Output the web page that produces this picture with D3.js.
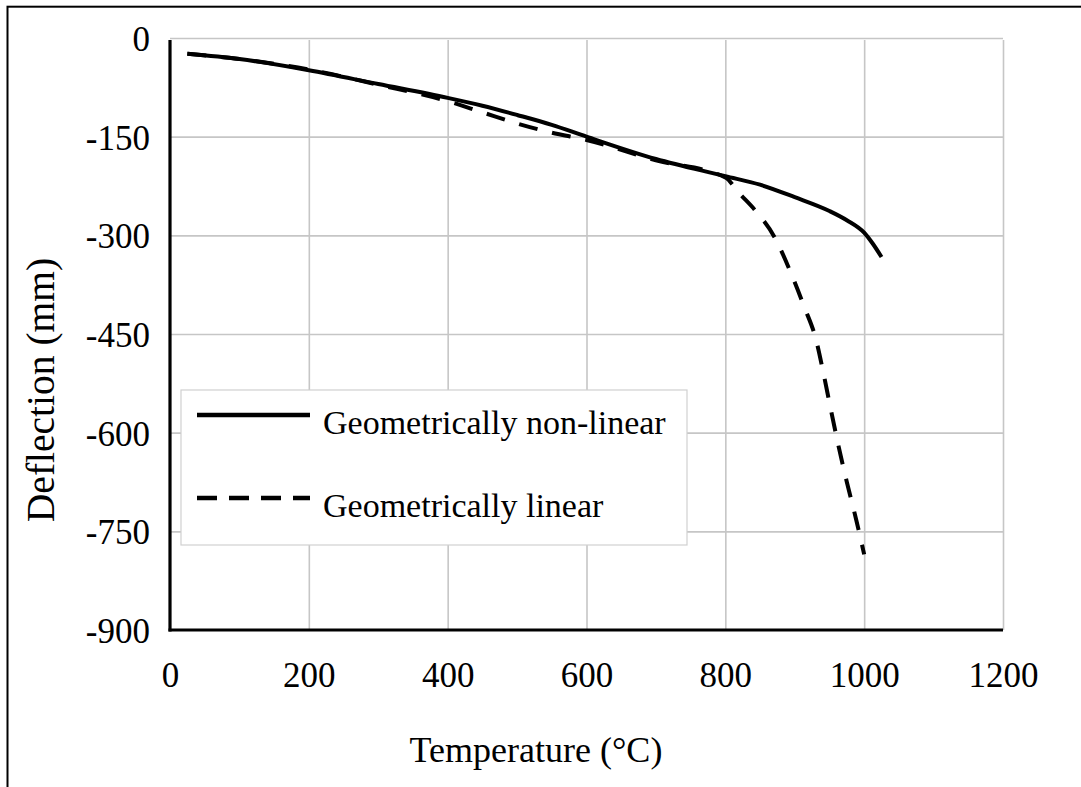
<!DOCTYPE html>
<html>
<head>
<meta charset="utf-8">
<script src="https://cdn.jsdelivr.net/npm/d3@7"></script>
<style>
  html, body { margin: 0; padding: 0; background: #fff; }
  svg { display: block; }
  text { font-family: "Liberation Serif", "Times New Roman", serif; fill: #000; }
</style>
</head>
<body>
<svg id="chart" width="1081" height="787"></svg>
<script>
// ---- data ----
const xTicks = [0, 200, 400, 600, 800, 1000, 1200];
const yTicks = [0, -150, -300, -450, -600, -750, -900];

const nonLinearTemp = [25, 100, 200, 300, 400, 450, 500, 550, 600, 700, 800, 850, 900, 950, 975, 1000, 1012, 1025];
const nonLinearDefl = [-24, -32, -49, -70, -91, -103, -117, -132, -150, -184, -210, -223, -242, -263, -277, -296, -312, -333];

const linearTemp = [25, 100, 200, 300, 400, 450, 500, 550, 600, 700, 800, 820, 843, 871, 894, 913, 931, 942, 952, 963, 975, 988, 1000];
const linearDefl = [-24, -32, -48, -71, -96, -113, -130, -144, -155, -186, -212, -236, -262, -303, -356, -407, -460, -513, -565, -620, -675, -730, -785];

const legendLabels = ["Geometrically non-linear", "Geometrically linear"];
const xTitle = "Temperature (°C)";
const yTitle = "Deflection (mm)";

// ---- layout ----
const svg = d3.select("#chart");
const x = d3.scaleLinear().domain([0, 1200]).range([170, 1003]);
const y = d3.scaleLinear().domain([0, -900]).range([38, 630]);
const fmt = d => String(d);

// outer border (clipped at right/bottom)
svg.append("rect")
  .attr("x", 7.5).attr("y", 6.7)
  .attr("width", 1090).attr("height", 800)
  .attr("fill", "none").attr("stroke", "#000").attr("stroke-width", 2);

// gridlines
const gridColor = "#c6c6c6";
svg.append("g")
  .attr("transform", `translate(0,${y(-900)})`)
  .call(d3.axisBottom(x).tickValues(xTicks.slice(1)).tickSize(-(y(-900) - y(0) - 2)).tickFormat(""))
  .call(g => g.select(".domain").remove())
  .call(g => g.selectAll("line").attr("stroke", gridColor).attr("stroke-width", 1.6));

svg.append("g")
  .attr("transform", `translate(${x(0)},0)`)
  .call(d3.axisRight(y).tickValues(yTicks.slice(0, -1)).tickSize(x(1200) - x(0)).tickFormat(""))
  .call(g => g.select(".domain").remove())
  .call(g => g.selectAll("line").attr("stroke", gridColor).attr("stroke-width", 1.6));

// axis lines
svg.append("line")
  .attr("x1", x(0)).attr("x2", x(0)).attr("y1", y(0) + 2).attr("y2", y(-900) + 1.5)
  .attr("stroke", "#000").attr("stroke-width", 3.2);
svg.append("line")
  .attr("x1", x(0) - 1.5).attr("x2", x(1200)).attr("y1", y(-900)).attr("y2", y(-900))
  .attr("stroke", "#000").attr("stroke-width", 3.2);

// tick labels
const yAx = svg.append("g")
  .attr("transform", `translate(150,0)`)
  .call(d3.axisLeft(y).tickValues(yTicks).tickSize(0).tickPadding(0).tickFormat(fmt));
yAx.select(".domain").remove();
yAx.selectAll("text")
  .attr("font-size", 35).attr("dy", "0.36em").attr("x", 0).attr("text-anchor", "end");

const xAx = svg.append("g")
  .attr("transform", `translate(0,${y(-900)})`)
  .call(d3.axisBottom(x).tickValues(xTicks).tickSize(0).tickPadding(0).tickFormat(fmt));
xAx.select(".domain").remove();
xAx.selectAll("text")
  .attr("font-size", 35).attr("y", 57).attr("dy", 0).attr("text-anchor", "middle");

// series
const lineGen = d3.line().x(d => x(d[0])).y(d => y(d[1])).curve(d3.curveMonotoneX);
const nl = nonLinearTemp.map((t, i) => [t, nonLinearDefl[i]]);
const li = linearTemp.map((t, i) => [t, linearDefl[i]]);

svg.append("path").datum(li)
  .attr("d", lineGen).attr("fill", "none").attr("stroke", "#000")
  .attr("stroke-width", 4).attr("stroke-dasharray", "19,15");
svg.append("path").datum(nl)
  .attr("d", lineGen).attr("fill", "none").attr("stroke", "#000")
  .attr("stroke-width", 4);

// legend
const lg = svg.append("g");
lg.append("rect").attr("x", 181).attr("y", 390).attr("width", 506).attr("height", 155)
  .attr("fill", "#fff").attr("stroke", "#d0d0d0").attr("stroke-width", 1.2);
const rows = [{ y: 415, dash: null }, { y: 498, dash: "20,12" }];
rows.forEach((r, i) => {
  lg.append("line").attr("x1", 197).attr("x2", 310).attr("y1", r.y).attr("y2", r.y)
    .attr("stroke", "#000").attr("stroke-width", 4.5)
    .attr("stroke-dasharray", r.dash);
  lg.append("text").attr("x", 323).attr("y", r.y + 19)
    .attr("font-size", 34).text(legendLabels[i]);
});

// titles
svg.append("text").attr("x", 536).attr("y", 762).attr("text-anchor", "middle")
  .attr("font-size", 36).text(xTitle);
svg.append("text").attr("transform", "translate(54,390) rotate(-90)")
  .attr("text-anchor", "middle").attr("font-size", 39.5).text(yTitle);
</script>
</body>
</html>
